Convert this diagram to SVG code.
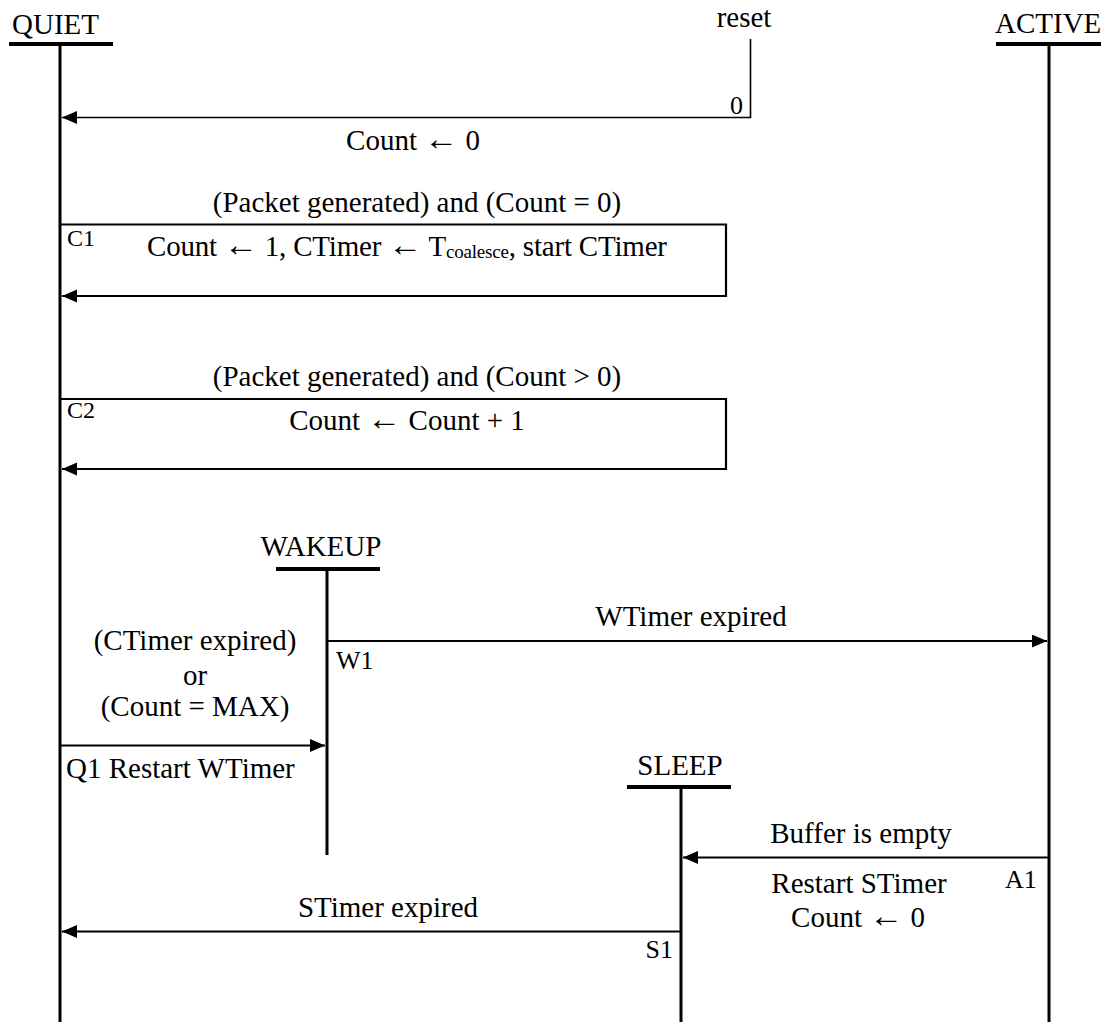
<svg xmlns="http://www.w3.org/2000/svg" width="1107" height="1022" viewBox="0 0 1107 1022">
<style>
text{font-family:'Liberation Serif','Times New Roman',serif;font-size:29px;fill:#000}
.s{font-size:26px}
.c{font-size:24px}
.m{text-anchor:middle}
.e{text-anchor:end}
.ar{font-size:34px}
.life{stroke:#000;stroke-width:3;fill:none}
.bar{stroke:#000;stroke-width:4;fill:none}
.con{stroke:#000;stroke-width:2.2;fill:none}
.thin{stroke:#000;stroke-width:1.6;fill:none}
</style>
<defs>
<marker id="ah" markerUnits="userSpaceOnUse" markerWidth="16" markerHeight="14" refX="15" refY="6.5" orient="auto">
<path d="M0,0 L15,6.5 L0,13 z" fill="#000"/>
</marker>
</defs>
<rect width="1107" height="1022" fill="#fff"/>
<g id="quiet">
<text x="12" y="34">QUIET</text>
<line class="bar" x1="9" y1="44" x2="113" y2="44"/>
<line class="life" x1="60" y1="44" x2="60" y2="1022"/>
</g>
<g id="active">
<text x="995" y="33">ACTIVE</text>
<line class="bar" x1="996" y1="44" x2="1101" y2="44"/>
<line class="life" x1="1049" y1="44" x2="1049" y2="1022"/>
</g>
<g id="reset">
<text class="m" x="744" y="27">reset</text>
</g>
<g id="wakeup">
<text class="m" x="321" y="556">WAKEUP</text>
<line class="bar" x1="276" y1="569" x2="380" y2="569"/>
<line class="life" x1="327" y1="569" x2="327" y2="855"/>
</g>
<g id="sleep">
<text class="m" x="680" y="775">SLEEP</text>
<line class="bar" x1="627" y1="787" x2="731" y2="787"/>
<line class="life" x1="681" y1="787" x2="681" y2="1022"/>
</g>
<g id="connectors">
<polyline class="thin" points="750.5,39 750.5,117.5 62,117.5" marker-end="url(#ah)"/>
<text class="s e" x="743" y="114">0</text>
<text class="m" x="413" y="150">Count <tspan class="ar">←</tspan> 0</text>

<text class="m" x="417" y="212">(Packet generated) and (Count = 0)</text>
<polyline class="con" points="60,224.5 726,224.5 726,296 62,296" marker-end="url(#ah)"/>
<text class="c" x="67" y="246">C1</text>
<text x="147" y="256" textLength="520" lengthAdjust="spacing">Count <tspan class="ar">←</tspan> 1, CTimer <tspan class="ar">←</tspan> T<tspan font-size="19" dy="2">coalesce</tspan><tspan dy="-2">, start CTimer</tspan></text>

<text class="m" x="417" y="386">(Packet generated) and (Count &gt; 0)</text>
<polyline class="con" points="60,399 726,399 726,469 62,469" marker-end="url(#ah)"/>
<text class="c" x="67" y="418">C2</text>
<text class="m" x="407" y="430">Count <tspan class="ar">←</tspan> Count + 1</text>

<line class="con" x1="327" y1="641" x2="1047" y2="641" marker-end="url(#ah)"/>
<text class="m" x="691" y="626">WTimer expired</text>
<text class="s" x="336" y="669">W1</text>

<text class="m" x="195" y="650">(CTimer expired)</text>
<text class="m" x="195" y="685">or</text>
<text class="m" x="195" y="716">(Count = MAX)</text>
<line class="con" x1="60" y1="745.5" x2="325" y2="745.5" marker-end="url(#ah)"/>
<text x="66" y="778">Q1 Restart WTimer</text>

<line class="con" x1="1049" y1="857.5" x2="683" y2="857.5" marker-end="url(#ah)"/>
<text class="m" x="861" y="843">Buffer is empty</text>
<text class="s" x="1005" y="888">A1</text>
<text class="m" x="859" y="893">Restart STimer</text>
<text class="m" x="858" y="927">Count <tspan class="ar">←</tspan> 0</text>

<line class="con" x1="681" y1="931.5" x2="62" y2="931.5" marker-end="url(#ah)"/>
<text class="m" x="388" y="917">STimer expired</text>
<text class="s e" x="673" y="958">S1</text>
</g>
</svg>
